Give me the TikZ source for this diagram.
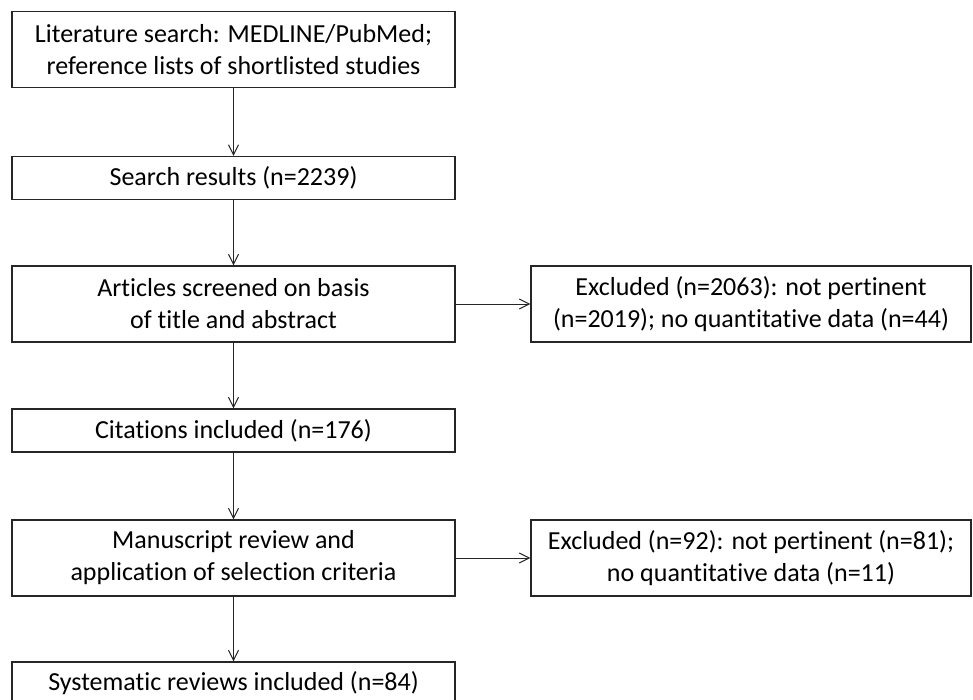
\documentclass[tikz,border=0pt]{standalone}
\usepackage{fontspec}
\setmainfont[Ligatures=NoCommon]{Carlito}
\usetikzlibrary{arrows.meta}
\begin{document}
\begin{tikzpicture}[x=1pt,y=-1pt,
  box/.style={draw=black!85, line width=1.3pt, align=center, inner sep=0pt,
    font=\fontsize{26}{32}\selectfont, minimum width=443pt},
  rbox/.style={box, minimum width=440pt},
  two/.style={minimum height=76pt},
  one/.style={minimum height=43pt},
  conn/.style={draw=black!85, line width=1pt, -{Straight Barb[length=10pt,width=10pt]}}
]
\useasboundingbox (0,0) rectangle (973,699);
\node[box,two] (b1) at (233.5,49.5) {Literature search: MEDLINE/PubMed;\\reference lists of shortlisted studies};
\node[box,one] (b2) at (233.5,178) {Search results (n=2239)};
\node[box,two] (b3) at (233.5,304) {Articles screened on basis\\of title and abstract};
\node[rbox,two] (e1) at (751,304) {Excluded (n=2063): not pertinent\\(n=2019); no quantitative data (n=44)};
\node[box,one] (b4) at (233.5,430.5) {Citations included (n=176)};
\node[box,two] (b5) at (233.5,558) {Manuscript review and\\application of selection criteria};
\node[rbox,two] (e2) at (751,558) {Excluded (n=92): not pertinent (n=81);\\no quantitative data (n=11)};
\node[box,one] (b6) at (233.5,683.5) {Systematic reviews included (n=84)};
\draw[conn] (b1) -- (b2);
\draw[conn] (b2) -- (b3);
\draw[conn] (b3) -- (b4);
\draw[conn] (b4) -- (b5);
\draw[conn] (b5) -- (b6);
\draw[conn] (b3) -- (e1);
\draw[conn] (b5) -- (e2);
\end{tikzpicture}
\end{document}
